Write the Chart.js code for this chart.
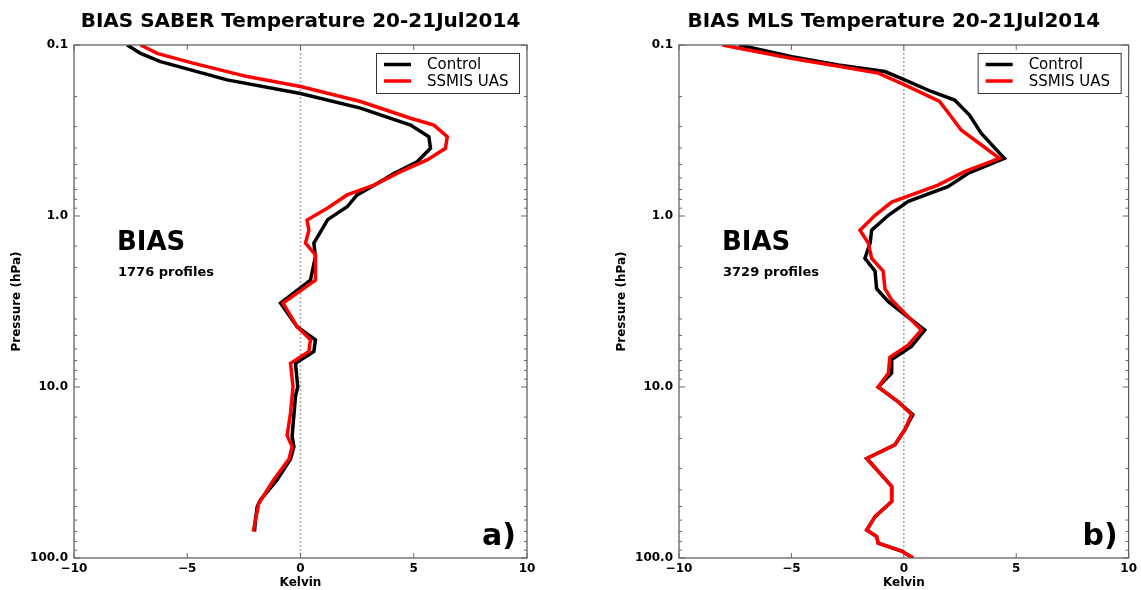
<!DOCTYPE html>
<html>
<head>
<meta charset="utf-8">
<script src="https://cdn.jsdelivr.net/npm/chart.js@4.4.0/dist/chart.umd.min.js"></script>
<style>
  body { margin: 0; background: #fff; }
  #wrap { position: relative; width: 1141px; height: 590px; }
  .panel { position: absolute; top: 0; height: 590px; }
  #p1 { left: 0; width: 570px; }
  #p2 { left: 570px; width: 571px; }
</style>
</head>
<body>
<div id="wrap">
  <div class="panel" id="p1"><canvas id="saberChart"></canvas></div>
  <div class="panel" id="p2"><canvas id="mlsChart"></canvas></div>
</div>
<script>
// SABER panel (pressure hPa, bias K)
const saber_ctl_p = [0.1, 0.112, 0.125, 0.16, 0.192, 0.234, 0.294, 0.344, 0.402, 0.482, 0.564, 0.646, 0.753, 0.883, 1.05, 1.44, 1.73, 2.37, 3.23, 4.44, 5.29, 6.19, 7.27, 10, 11.3, 19.4, 22.3, 26.4, 34.9, 45.8, 50, 60, 70];
const saber_ctl_k = [-7.65, -7.06, -6.18, -3.24, 0, 2.65, 4.86, 5.67, 5.74, 5.15, 4.12, 3.39, 2.5, 2.06, 1.2, 0.59, 0.66, 0.44, -0.88, -0.15, 0.66, 0.59, -0.22, -0.12, -0.22, -0.37, -0.29, -0.44, -1.03, -1.77, -1.91, -1.99, -2.03];
const saber_uas_p = [0.1, 0.112, 0.128, 0.153, 0.175, 0.214, 0.268, 0.294, 0.344, 0.402, 0.47, 0.55, 0.66, 0.753, 0.9, 1.056, 1.21, 1.44, 1.69, 2.37, 3.23, 4.44, 5.29, 6.19, 7.27, 10, 14.2, 19.2, 22.3, 26.4, 34.9, 47.8, 60, 70];
const saber_uas_k = [-7.06, -6.33, -4.71, -2.35, 0, 2.65, 4.86, 5.89, 6.48, 6.4, 5.59, 4.42, 3.24, 2.06, 1.18, 0.29, 0.37, 0.22, 0.66, 0.66, -0.77, -0.15, 0.44, 0.37, -0.44, -0.33, -0.44, -0.59, -0.37, -0.51, -1.18, -1.84, -1.99, -2.09];

// MLS panel
const mls_ctl_p = [0.1, 0.117, 0.131, 0.143, 0.16, 0.187, 0.21, 0.257, 0.328, 0.46, 0.564, 0.673, 0.82, 0.99, 1.21, 1.44, 1.77, 2.1, 2.66, 3.17, 4.65, 5.8, 6.9, 8.3, 10, 12.2, 14.5, 17.8, 21.8, 26.2, 38.1, 46.7, 57.3, 68.6, 75, 82, 91, 100];
const mls_ctl_k = [-7.33, -4.97, -2.91, -0.84, 0.04, 1.22, 2.26, 2.92, 3.44, 4.47, 2.85, 1.96, 0.2, -0.69, -1.43, -1.5, -1.73, -1.28, -1.21, -0.69, 0.93, 0.34, -0.54, -0.54, -1.14, -0.25, 0.4, 0.04, -0.4, -1.65, -0.54, -0.54, -1.28, -1.65, -1.21, -1.14, -0.1, 0.41];
const mls_uas_p = [0.1, 0.12, 0.133, 0.146, 0.171, 0.214, 0.263, 0.314, 0.46, 0.55, 0.66, 0.83, 0.99, 1.21, 1.44, 1.77, 2.1, 2.66, 3.1, 4.65, 5.7, 6.7, 8.3, 10, 12.2, 14.5, 17.8, 21.8, 26.2, 38.1, 46.7, 57.3, 68.6, 75, 82, 91, 100];
const mls_uas_k = [-8.07, -4.97, -2.91, -1.14, 0.04, 1.59, 2.11, 2.55, 4.25, 2.7, 1.52, -0.54, -1.28, -1.95, -1.58, -1.43, -0.92, -0.84, -0.54, 0.78, 0.19, -0.62, -0.69, -1.14, -0.25, 0.34, 0.04, -0.4, -1.65, -0.54, -0.54, -1.28, -1.65, -1.21, -1.14, -0.1, 0.41];

const series_names = ["Control", "SSMIS UAS"];
const x_ticks = [-10, -5, 0, 5, 10];
const y_ticks = [0.1, 1, 10, 100];

const FONT = "'DejaVu Sans', sans-serif";

function toPoints(p, k) {
  let pts = [];
  for (let i = 0; i < p.length; i++) {
    pts.push({x: k[i], y: p[i]});
  }
  return pts;
}

function isDecade(v) {
  let l = Math.log10(v);
  return Math.abs(l - Math.round(l)) < 1e-9;
}

// frame, inside ticks, zero line, legend and annotations
const decor = {
  id: 'decor',
  beforeDatasetsDraw(chart) {
    const {ctx, chartArea: a, scales} = chart;
    const x0 = scales.x.getPixelForValue(0);
    ctx.save();
    ctx.strokeStyle = '#aaaaaa';
    ctx.lineWidth = 1.5;
    ctx.setLineDash([2, 2]);
    ctx.beginPath();
    ctx.moveTo(x0, a.top);
    ctx.lineTo(x0, a.bottom);
    ctx.stroke();
    ctx.restore();
  },
  afterDatasetsDraw(chart, args, o) {
    const {ctx, chartArea: a, scales} = chart;
    ctx.save();
    // frame
    ctx.strokeStyle = '#555';
    ctx.lineWidth = 1.2;
    ctx.strokeRect(a.left, a.top, a.right - a.left, a.bottom - a.top);
    // ticks
    ctx.lineWidth = 1;
    ctx.strokeStyle = '#666';
    ctx.beginPath();
    scales.x.ticks.forEach(t => {
      let px = scales.x.getPixelForValue(t.value);
      ctx.moveTo(px, a.bottom); ctx.lineTo(px, a.bottom - 5);
      ctx.moveTo(px, a.top); ctx.lineTo(px, a.top + 5);
    });
    scales.y.ticks.forEach(t => {
      let py = scales.y.getPixelForValue(t.value);
      let len = isDecade(t.value) ? 6 : 3;
      ctx.moveTo(a.left, py); ctx.lineTo(a.left + len, py);
      ctx.moveTo(a.right, py); ctx.lineTo(a.right - len, py);
    });
    ctx.stroke();

    // legend
    const bw = 143, bh = 40;
    const bx = a.right - 8 - bw, by = a.top + 8;
    ctx.fillStyle = '#fff';
    ctx.fillRect(bx, by, bw, bh);
    ctx.strokeStyle = '#333';
    ctx.lineWidth = 1;
    ctx.strokeRect(bx + 0.5, by + 0.5, bw, bh);
    const ds = chart.data.datasets;
    const rows = [ds[1], ds[0]];
    rows.forEach((d, i) => {
      let cy = by + 11.5 + i * 16.5;
      ctx.strokeStyle = d.borderColor;
      ctx.lineWidth = 3.5;
      ctx.beginPath();
      ctx.moveTo(bx + 8, cy); ctx.lineTo(bx + 35, cy);
      ctx.stroke();
      ctx.fillStyle = '#000';
      ctx.font = '15px ' + FONT;
      ctx.textAlign = 'left';
      ctx.textBaseline = 'middle';
      ctx.fillText(d.label, bx + 51, cy + 1);
    });

    // annotations
    ctx.fillStyle = '#000';
    ctx.textAlign = 'left';
    ctx.textBaseline = 'alphabetic';
    ctx.font = 'bold 26px ' + FONT;
    ctx.fillText('BIAS', a.left + 43, a.top + 205);
    ctx.font = 'bold 13px ' + FONT;
    ctx.fillText(o.profiles, a.left + 44, a.top + 231);
    ctx.font = 'bold 30px ' + FONT;
    ctx.textAlign = 'right';
    ctx.fillText(o.letter, a.right - 11, a.bottom - 13);

    // title
    ctx.font = 'bold 20px ' + FONT;
    ctx.textAlign = 'center';
    ctx.fillText(o.title, (a.left + a.right) / 2 + o.titleShift, 27);
    ctx.restore();
  }
};

function makePanel(id, title, titleShift, profiles, letter, ctl, uas, padL, padR) {
  const config = {
    type: 'scatter',
    data: {
      datasets: [
        {label: series_names[1], data: uas, borderColor: '#ff0000', order: 0},
        {label: series_names[0], data: ctl, borderColor: '#000000', order: 1}
      ].map(d => Object.assign(d, {showLine: true, pointRadius: 0, borderWidth: 3.5, tension: 0, fill: false}))
    },
    options: {
      responsive: true,
      maintainAspectRatio: false,
      animation: false,
      events: [],
      layout: {padding: {top: 45, left: padL, right: padR, bottom: 0}},
      plugins: {
        legend: {display: false},
        tooltip: {enabled: false},
        decor: {title: title, titleShift: titleShift, profiles: profiles, letter: letter}
      },
      scales: {
        x: {
          type: 'linear', min: -10, max: 10,
          grid: {display: false, drawTicks: false}, border: {display: false},
          afterBuildTicks: s => { s.ticks = x_ticks.map(v => ({value: v})); },
          afterFit: s => { s.height = 32; },
          ticks: {
            padding: 4, color: '#000', maxRotation: 0,
            font: {family: FONT, weight: 'bold', size: 12},
            callback: v => (v < 0 ? '\u2212' + Math.abs(v) : '' + v)
          },
          title: {display: true, text: 'Kelvin', color: '#000', padding: 0,
                  font: {family: FONT, weight: 'bold', size: 12}}
        },
        y: {
          type: 'logarithmic', reverse: true, min: 0.1, max: 100,
          grid: {display: false, drawTicks: false}, border: {display: false},
          afterFit: s => { s.width = 74; },
          ticks: {
            autoSkip: false, padding: 6, color: '#000',
            font: {family: FONT, weight: 'bold', size: 12},
            callback: v => (y_ticks.some(t => Math.abs(t - v) < 1e-9) ? v.toFixed(1) : '')
          },
          title: {display: true, text: 'Pressure (hPa)', color: '#000', padding: {top: 10, bottom: 0},
                  font: {family: FONT, weight: 'bold', size: 12}}
        }
      }
    },
    plugins: [decor]
  };
  return new Chart(document.getElementById(id), config);
}

makePanel('saberChart', 'BIAS SABER Temperature 20-21Jul2014', 0, '1776 profiles', 'a)',
  toPoints(saber_ctl_p, saber_ctl_k), toPoints(saber_uas_p, saber_uas_k), 0, 43);
makePanel('mlsChart', 'BIAS MLS Temperature 20-21Jul2014', -10, '3729 profiles', 'b)',
  toPoints(mls_ctl_p, mls_ctl_k), toPoints(mls_uas_p, mls_uas_k), 35, 10);
</script>
</body>
</html>
